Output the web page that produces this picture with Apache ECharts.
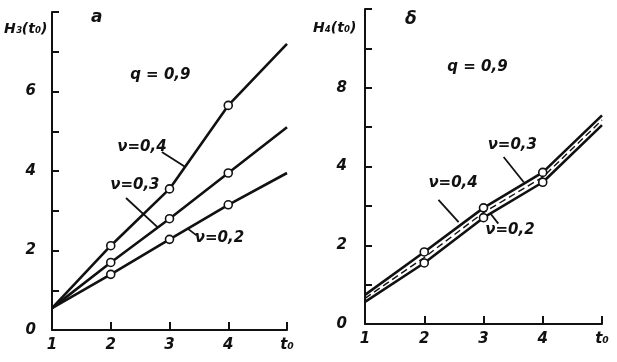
<!DOCTYPE html>
<html>
<head>
<meta charset="utf-8">
<script src="https://cdn.jsdelivr.net/npm/echarts@6/dist/echarts.min.js"></script>
<style>
  html, body { margin: 0; padding: 0; background: #fff; }
  #chart { width: 617px; height: 362px; }
</style>
</head>
<body>
<div id="chart"></div>
<script>
// t0 values, shared by both panels
const tValues = [1, 2, 3, 4, 5];
const xTickLabels = ["1", "2", "3", "4", "t\u2080"];
const yTickLabelsA = { 0: "0", 2: "2", 4: "4", 6: "6" };
const yTickLabelsB = { 0: "0", 2: "2", 4: "4", 6: "8" };

// panel a: H3(t0)
const h3_v04 = [0.55, 2.12, 3.55, 5.65, 7.2];
const h3_v03 = [0.55, 1.7, 2.8, 3.95, 5.1];
const h3_v02 = [0.55, 1.4, 2.28, 3.15, 3.95];

// panel б: H4(t0)
const h4_v04 = [0.74, 1.83, 2.95, 3.85, 5.3];
const h4_v03 = [0.65, 1.69, 2.83, 3.73, 5.18];
const h4_v02 = [0.56, 1.55, 2.7, 3.6, 5.05];

// circles only at t0 = 2, 3, 4
const markedT = [2, 3, 4];

const FONT = "'DejaVu Sans', sans-serif";

const toData = (vals, marked) =>
  tValues.map((t, i) => ({
    value: [t, vals[i]],
    symbol: marked && markedT.includes(t) ? "circle" : "none",
  }));

const lineSeries = (idx, vals, marked, dashed) => ({
  type: "line",
  xAxisIndex: idx,
  yAxisIndex: idx,
  data: toData(vals, marked),
  symbolSize: 8,
  itemStyle: { color: "#fff", borderColor: "#111", borderWidth: 1.6 },
  lineStyle: {
    color: "#111",
    width: dashed ? 1.4 : 2.6,
    type: dashed ? [7, 4] : "solid",
  },
  z: dashed ? 3 : 2,
  animation: false,
});

const xAxisOf = (idx) => ({
  type: "value",
  gridIndex: idx,
  min: 1,
  max: 5,
  interval: 1,
  splitLine: { show: false },
  axisLine: { lineStyle: { color: "#111", width: 2 } },
  axisTick: { inside: true, length: 8, lineStyle: { color: "#111", width: 2 } },
  axisLabel: {
    color: "#111",
    fontFamily: FONT,
    fontSize: 15,
    fontStyle: "italic",
    fontWeight: "bold",
    margin: 8,
    formatter: (v) => xTickLabels[v - 1],
  },
});

const yAxisOf = (idx, labels, margin) => ({
  type: "value",
  gridIndex: idx,
  min: 0,
  max: 8,
  interval: 1,
  splitLine: { show: false },
  axisLine: { lineStyle: { color: "#111", width: 2 } },
  axisTick: { inside: true, length: 7, lineStyle: { color: "#111", width: 2 } },
  axisLabel: {
    color: "#111",
    fontFamily: FONT,
    fontSize: 15,
    fontStyle: "italic",
    fontWeight: "bold",
    margin: margin,
    formatter: (v) => labels[v] || "",
  },
});

const chart = echarts.init(document.getElementById("chart"));

chart.setOption({
  backgroundColor: "#fff",
  animation: false,
  grid: [
    { left: 52, right: 330, top: 12, bottom: 32 },
    { left: 365, right: 15, top: 9, bottom: 38 },
  ],
  xAxis: [xAxisOf(0), xAxisOf(1)],
  yAxis: [yAxisOf(0, yTickLabelsA, 16), yAxisOf(1, yTickLabelsB, 18)],
  series: [
    lineSeries(0, h3_v04, true),
    lineSeries(0, h3_v03, true),
    lineSeries(0, h3_v02, true),
    lineSeries(1, h4_v04, true),
    lineSeries(1, h4_v03, false, true),
    lineSeries(1, h4_v02, true),
  ],
});

// annotations anchored in data coordinates: [grid, t0, H, text]
const labelsAt = [
  [0, 2.11, 4.6, "\u03bd=0,4"],
  [0, 1.99, 3.65, "\u03bd=0,3"],
  [0, 3.43, 2.32, "\u03bd=0,2"],
  [0, 2.33, 6.42, "q = 0,9"],
  [1, 3.07, 4.54, "\u03bd=0,3"],
  [1, 2.07, 3.58, "\u03bd=0,4"],
  [1, 3.03, 2.39, "\u03bd=0,2"],
  [1, 2.39, 6.52, "q = 0,9"],
];
const leadersAt = [
  [0, 2.87, 4.48, 3.27, 4.1],
  [0, 2.26, 3.32, 2.8, 2.58],
  [0, 3.31, 2.55, 3.46, 2.38],
  [1, 3.34, 4.24, 3.68, 3.6],
  [1, 2.24, 3.15, 2.58, 2.59],
  [1, 3.12, 2.8, 3.25, 2.55],
];

const px = (g, x, y) => chart.convertToPixel({ gridIndex: g }, [x, y]);
const txtStyle = (size) => ({
  fill: "#111",
  font: "italic bold " + size + "px " + FONT,
  textVerticalAlign: "middle",
});

const graphic = [];
labelsAt.forEach(([g, x, y, text]) => {
  const p = px(g, x, y);
  graphic.push({ type: "text", x: p[0], y: p[1], style: { text, ...txtStyle(15) } });
});
leadersAt.forEach(([g, x1, y1, x2, y2]) => {
  const a = px(g, x1, y1);
  const b = px(g, x2, y2);
  graphic.push({
    type: "line",
    shape: { x1: a[0], y1: a[1], x2: b[0], y2: b[1] },
    style: { stroke: "#111", lineWidth: 1.8 },
  });
});
// panel titles and axis names
graphic.push({ type: "text", x: 91, y: 18, style: { text: "a", ...txtStyle(17) } });
graphic.push({ type: "text", x: 405, y: 20, style: { text: "\u03b4", ...txtStyle(17) } });
graphic.push({ type: "text", x: 4, y: 29, style: { text: "H\u2083(t\u2080)", ...txtStyle(14) } });
graphic.push({ type: "text", x: 313, y: 28, style: { text: "H\u2084(t\u2080)", ...txtStyle(14) } });

chart.setOption({ graphic });
</script>
</body>
</html>
